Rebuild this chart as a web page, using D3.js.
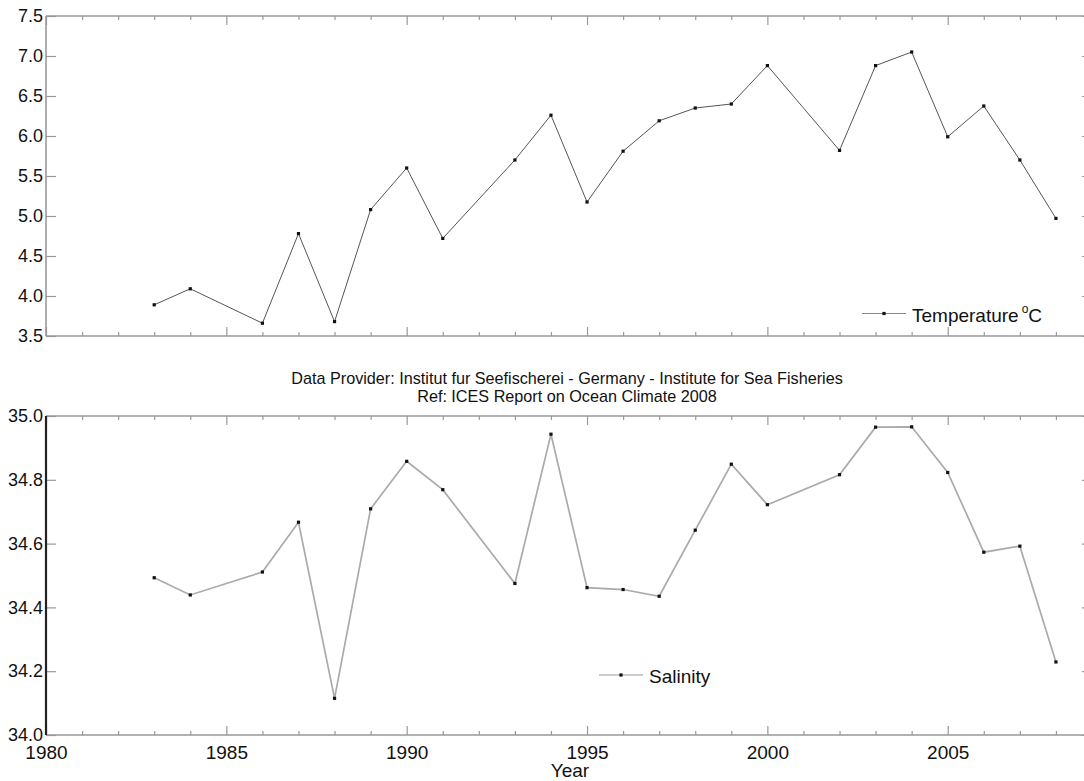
<!DOCTYPE html>
<html><head><meta charset="utf-8">
<script src="https://cdn.jsdelivr.net/npm/d3@7"></script>
<style>
body{margin:0;background:#fff;}
text{font-family:"Liberation Sans",Arial,sans-serif;fill:#111;}
</style></head>
<body><svg id="c" width="1084" height="781"></svg>
<script>
const tempYears = [1983,1984,1986,1987,1988,1989,1990,1991,1993,1994,1995,1996,1997,1998,1999,2000,2002,2003,2004,2005,2006,2007,2008];
const tempValues = [3.89,4.09,3.66,4.78,3.68,5.08,5.60,4.72,5.70,6.26,5.175,5.81,6.19,6.35,6.40,6.88,5.82,6.88,7.05,5.99,6.375,5.70,4.97];
const salYears = [1983,1984,1986,1987,1988,1989,1990,1991,1993,1994,1995,1996,1997,1998,1999,2000,2002,2003,2004,2005,2006,2007,2008];
const salValues = [34.493,34.439,34.511,34.667,34.115,34.709,34.858,34.769,34.475,34.943,34.462,34.456,34.435,34.642,34.849,34.722,34.816,34.965,34.966,34.823,34.573,34.592,34.229];
const tempTicks = [3.5,4.0,4.5,5.0,5.5,6.0,6.5,7.0,7.5];
const salTicks = [34.0,34.2,34.4,34.6,34.8,35.0];
const yearMajor = [1980,1985,1990,1995,2000,2005];
const yearMinor = d3.range(1980,2009);
const titleLines = ["Data Provider: Institut fur Seefischerei - Germany - Institute for Sea Fisheries","Ref: ICES Report on Ocean Climate 2008"];

const svg = d3.select("#c");
svg.append("rect").attr("width",1084).attr("height",781).attr("fill","#fff");

const x = d3.scaleLinear().domain([1980,2009]).range([46,1092]);
const yT = d3.scaleLinear().domain([3.5,7.5]).range([336,16]);
const yS = d3.scaleLinear().domain([34.0,35.0]).range([735,416]);

function panel(y, ticks, fmt, years, values, lineColor, lineW, leftColor, leftW, showX){
  const [y0,y1] = y.range();
  const g = svg.append("g");
  const tickStyle = sel => { sel.select(".domain").remove(); sel.selectAll(".tick line").attr("stroke","#999").attr("stroke-width",1.2); };
  g.append("g").attr("transform",`translate(0,${y0})`)
    .call(d3.axisBottom(x).tickValues(yearMinor.filter(v=>v%5)).tickSize(-4).tickFormat(""))
    .call(tickStyle);
  g.append("g").attr("transform",`translate(0,${y0})`)
    .call(d3.axisBottom(x).tickValues(yearMajor).tickSize(-9).tickPadding(11).tickFormat(showX?d3.format("d"):""))
    .call(tickStyle)
    .call(s=>s.selectAll(".tick text").attr("font-size",19).attr("fill","#111").attr("font-family","Liberation Sans, Arial, sans-serif"));
  g.append("g").attr("transform",`translate(0,${y1})`)
    .call(d3.axisTop(x).tickValues(yearMinor.filter(v=>v%5)).tickSize(-4).tickFormat(""))
    .call(tickStyle);
  g.append("g").attr("transform",`translate(0,${y1})`)
    .call(d3.axisTop(x).tickValues(yearMajor).tickSize(-9).tickFormat(""))
    .call(tickStyle);
  g.append("g").attr("transform",`translate(${x(1980)},0)`)
    .call(d3.axisLeft(y).tickValues(ticks).tickSize(-10).tickPadding(3).tickFormat(fmt))
    .call(tickStyle)
    .call(s=>s.selectAll(".tick text").attr("font-size",18).attr("fill","#111").attr("font-family","Liberation Sans, Arial, sans-serif"));
  g.append("g").attr("transform",`translate(${x(2009)},0)`)
    .call(d3.axisRight(y).tickValues(ticks).tickSize(-10).tickFormat(""))
    .call(tickStyle);
  g.append("line").attr("x1",x(1980)).attr("x2",x(2009)).attr("y1",y1).attr("y2",y1).attr("stroke","#999").attr("stroke-width",1.6);
  g.append("line").attr("x1",x(1980)).attr("x2",x(2009)).attr("y1",y0).attr("y2",y0).attr("stroke","#999").attr("stroke-width",1.6);
  g.append("line").attr("x1",x(1980)).attr("x2",x(1980)).attr("y1",y1).attr("y2",y0).attr("stroke",leftColor).attr("stroke-width",leftW);
  const data = years.map((yr,i)=>[yr,values[i]]);
  g.append("path").datum(data)
    .attr("d",d3.line().x(d=>x(d[0])).y(d=>y(d[1])))
    .attr("fill","none").attr("stroke",lineColor).attr("stroke-width",lineW);
  g.selectAll("rect.m").data(data).join("rect").attr("class","m")
    .attr("x",d=>x(d[0])-1.6).attr("y",d=>y(d[1])-1.6).attr("width",3.2).attr("height",3.2).attr("fill","#111");
}

panel(yT, tempTicks, d3.format(".1f"), tempYears, tempValues, "#555", 1, "#999", 1.6, false);
panel(yS, salTicks, d3.format(".1f"), salYears, salValues, "#aaa", 1.7, "#222", 2.2, true);

function legend(lx, ly, color, w){
  svg.append("line").attr("x1",lx).attr("x2",lx+44).attr("y1",ly).attr("y2",ly).attr("stroke",color).attr("stroke-width",w);
  svg.append("rect").attr("x",lx+22-1.6).attr("y",ly-1.6).attr("width",3.2).attr("height",3.2).attr("fill","#111");
}
legend(862, 313.5, "#888", 1.2);
const tt = svg.append("text").attr("x",912).attr("y",322).attr("font-size",19);
tt.append("tspan").text("Temperature");
tt.append("tspan").attr("font-size",12).attr("dy",-9).attr("dx",3).text("o");
tt.append("tspan").attr("dy",9).text("C");
legend(599, 675, "#999", 1.2);
svg.append("text").attr("x",649).attr("y",682.5).attr("font-size",19).text("Salinity");

svg.selectAll("text.title").data(titleLines).join("text").attr("class","title")
  .attr("x",567).attr("y",(d,i)=>384+i*18).attr("text-anchor","middle").attr("font-size",16.2).attr("fill","#222").text(d=>d);

svg.append("text").attr("x",570).attr("y",777).attr("text-anchor","middle").attr("font-size",19).text("Year");
</script></body></html>
